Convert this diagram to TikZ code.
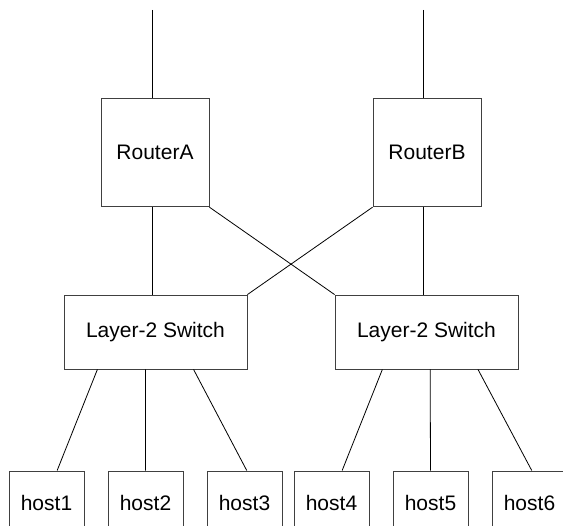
\documentclass[tikz,border=0pt]{standalone}
\usepackage{fontspec}
\setmainfont{Liberation Sans}
\usetikzlibrary{calc}
\begin{document}
\begin{tikzpicture}[x=1pt,y=-1pt,
  box/.style={draw=black!75,line width=0.9pt,inner sep=0pt,font=\fontsize{21}{25}\selectfont},
  router/.style={box,minimum width=108pt,minimum height=108.5pt},
  switchbox/.style={box,minimum width=183pt,minimum height=74pt},
  hostbox/.style={box,minimum width=75pt,minimum height=64pt},
  wire/.style={line width=0.8pt,black}]
\useasboundingbox (0,0) rectangle (563,526);
\node[router] (rA) at (155,152.5) {RouterA};
\node[router] (rB) at (427,152.5) {RouterB};
\node[switchbox] (s1) at (155.5,332) {Layer-2 Switch};
\node[switchbox] (s2) at (426.5,332) {Layer-2 Switch};
\node[hostbox] (h1) at (46.5,503) {host1};
\node[hostbox] (h2) at (145.5,503) {host2};
\node[hostbox] (h3) at (244.5,503) {host3};
\node[hostbox] (h4) at (331.5,503) {host4};
\node[hostbox] (h5) at (430.5,503) {host5};
\node[hostbox] (h6) at (529.5,503) {host6};
\coordinate (tA) at (152,10);
\coordinate (tB) at (423.7,10);
\draw[wire] (tA) -- (tA |- rA.north);
\draw[wire] (tB) -- (tB |- rB.north);
\draw[wire] (rA.south -| tA) -- (s1.north -| tA);
\draw[wire] (rB.south -| tB) -- (s2.north -| tB);
\draw[wire] (rA.south east) -- (s2.north west);
\draw[wire] (rB.south west) -- (s1.north east);
\draw[wire] ($(s1.south west)!0.184!(s1.south east)$) -- ($(h1.north west)!0.64!(h1.north east)$);
\draw[wire] ($(s1.south west)!0.446!(s1.south east)$) -- ($(h2.north west)!0.5!(h2.north east)$);
\draw[wire] ($(s1.south west)!0.707!(s1.south east)$) -- ($(h3.north west)!0.53!(h3.north east)$);
\draw[wire] ($(s2.south west)!0.26!(s2.south east)$) -- ($(h4.north west)!0.64!(h4.north east)$);
\draw[wire] ($(s2.south west)!0.52!(s2.south east)$) -- ($(h5.north west)!0.5!(h5.north east)$);
\draw[wire] ($(s2.south west)!0.78!(s2.south east)$) -- ($(h6.north west)!0.53!(h6.north east)$);
\end{tikzpicture}
\end{document}
